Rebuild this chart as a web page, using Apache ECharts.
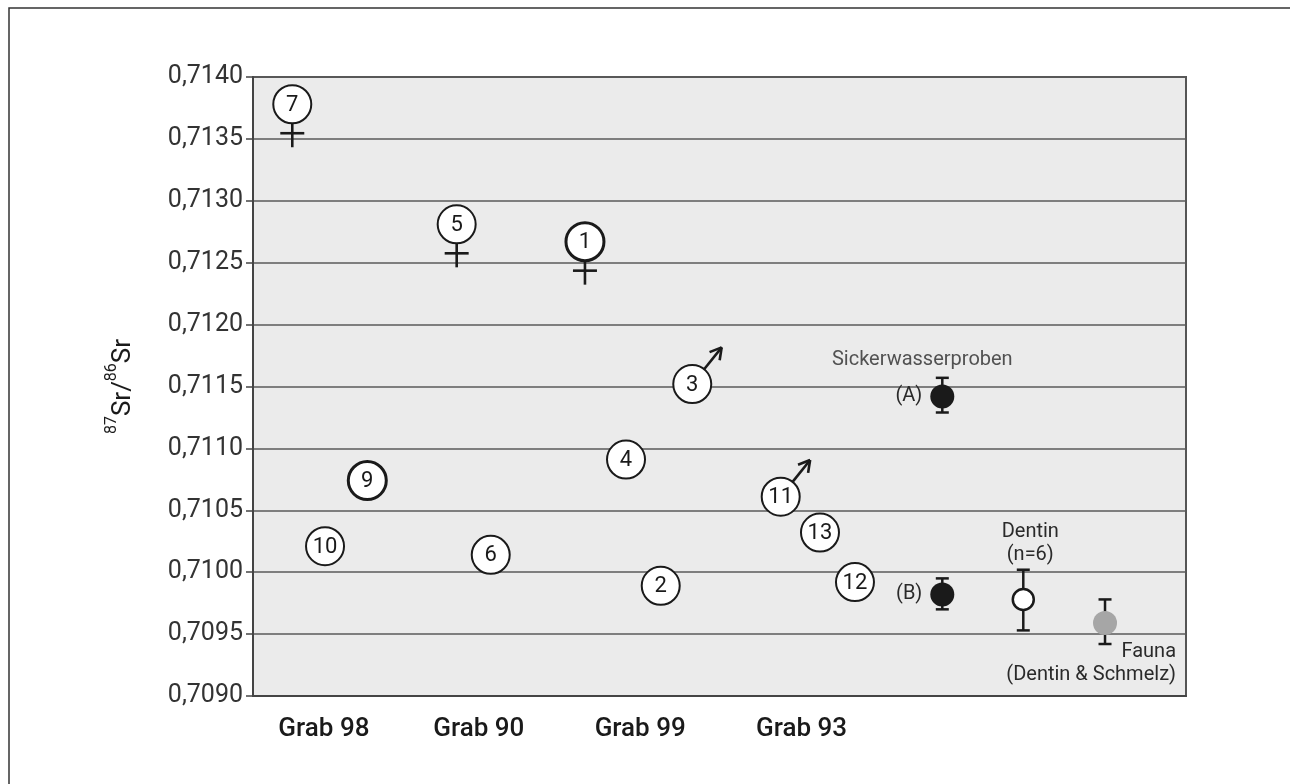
<!DOCTYPE html>
<html>
<head>
<meta charset="utf-8">
<script src="https://cdn.jsdelivr.net/npm/echarts@6/dist/echarts.min.js"></script>
<style>
html,body{margin:0;padding:0;background:#fff;}
#chart{width:1290px;height:784px;}
</style>
</head>
<body>
<div id="chart"></div>
<script>
// ---- data ----
const sampleIds   = ['7', '5', '1', '3', '4', '9', '10', '6', '2', '11', '13', '12'];
const sampleX     = [4.21, 21.83, 35.58, 47.08, 39.98, 12.25, 7.72, 25.48, 43.70, 56.56, 60.77, 64.52];
const sampleY     = [0.71378, 0.71281, 0.71267, 0.71152, 0.71091, 0.71074, 0.71021, 0.71014, 0.70989, 0.71061, 0.71032, 0.70992];
const sampleSex   = ['f', 'f', 'f', 'm', '', '', '', '', '', 'm', '', ''];

const refNames    = ['(A)', '(B)', 'Dentin\n(n=6)', 'Fauna\n(Dentin & Schmelz)'];
const refX        = [73.88, 73.88, 82.56, 91.32];
const refY        = [0.71142, 0.70982, 0.70978, 0.70959];
const refLow      = [0.71129, 0.70970, 0.70953, 0.70942];
const refHigh     = [0.71157, 0.70995, 0.71002, 0.70978];
const groupTitle  = 'Sickerwasserproben';

const grabLabels  = ['Grab 98', 'Grab 90', 'Grab 99', 'Grab 93'];
const grabX       = [7.6, 24.2, 41.5, 58.8];

const yMin = 0.7090, yMax = 0.7140, yStep = 0.0005;

// ---- chart ----
const FONT = 'Roboto, "Liberation Sans", sans-serif';
const INK = '#1a1a1a';
const thick = ['1', '9'];
const chart = echarts.init(document.getElementById('chart'), null, {renderer: 'canvas'});

function renderSample(params, api) {
  const i = params.dataIndex;
  const c = api.coord([api.value(0), api.value(1)]);
  const cx = c[0], cy = c[1], r = 19;
  const kids = [];
  const sex = sampleSex[i];
  const ls = {stroke: INK, lineWidth: 2.6};
  if (sex === 'f') {
    kids.push({type: 'line', shape: {x1: cx, y1: cy + r, x2: cx, y2: cy + 43}, style: ls});
    kids.push({type: 'line', shape: {x1: cx - 12, y1: cy + 29, x2: cx + 12, y2: cy + 29}, style: ls});
  } else if (sex === 'm') {
    const ux = 0.626, uy = -0.78;
    const tx = cx + ux * 47, ty = cy + uy * 47;
    kids.push({type: 'line', shape: {x1: cx + ux * r, y1: cy + uy * r, x2: tx, y2: ty}, style: ls});
    const back = Math.atan2(-uy, -ux);
    [-0.52, 0.52].forEach(function (d) {
      const a = back + d;
      kids.push({type: 'line', shape: {x1: tx, y1: ty, x2: tx + Math.cos(a) * 13, y2: ty + Math.sin(a) * 13}, style: ls});
    });
  }
  kids.push({type: 'circle', shape: {cx: cx, cy: cy, r: r}, style: {fill: '#fff', stroke: INK, lineWidth: thick.indexOf(sampleIds[i]) >= 0 ? 3 : 2}});
  kids.push({type: 'text', style: {text: sampleIds[i], x: cx, y: cy + 1, align: 'center', verticalAlign: 'middle', fontSize: 22, fontFamily: FONT, fill: INK}});
  return {type: 'group', children: kids};
}

function renderErr(params, api) {
  const x = api.value(0);
  const top = api.coord([x, api.value(2)]);
  const bot = api.coord([x, api.value(1)]);
  const ls = {stroke: INK, lineWidth: 2.5};
  return {type: 'group', children: [
    {type: 'line', shape: {x1: top[0], y1: top[1], x2: bot[0], y2: bot[1]}, style: ls},
    {type: 'line', shape: {x1: top[0] - 6.5, y1: top[1], x2: top[0] + 6.5, y2: top[1]}, style: ls},
    {type: 'line', shape: {x1: bot[0] - 6.5, y1: bot[1], x2: bot[0] + 6.5, y2: bot[1]}, style: ls}
  ]};
}

const labelStyle = {fontFamily: FONT, fontSize: 20, color: '#2a2a2a', lineHeight: 23};

const option = {
  backgroundColor: '#fff',
  animation: false,
  graphic: [{type: 'rect', shape: {x: 9, y: 8, width: 1400, height: 900}, style: {fill: 'none', stroke: '#333', lineWidth: 1.5}, z: -10}],
  grid: {left: 253, top: 77, right: 104, bottom: 88, show: true, backgroundColor: '#ebebeb', borderColor: '#555', borderWidth: 2},
  xAxis: {
    type: 'value', min: 0, max: 100,
    axisLine: {show: true, lineStyle: {color: '#444', width: 2}},
    axisTick: {show: false},
    splitLine: {show: false},
    axisLabel: {
      customValues: grabX,
      formatter: function (v) { const k = grabX.indexOf(v); return k >= 0 ? grabLabels[k] : ''; },
      fontFamily: FONT, fontSize: 26, fontWeight: 500, color: INK, margin: 20
    }
  },
  yAxis: {
    type: 'value', min: yMin, max: yMax, interval: yStep,
    name: '{sup|87}{main|Sr/}{sup|86}{main|Sr}',
    nameLocation: 'middle', nameRotate: 90, nameGap: 117,
    nameTextStyle: {
      rich: {
        main: {fontFamily: FONT, fontSize: 26, color: INK, verticalAlign: 'bottom', lineHeight: 32},
        sup: {fontFamily: FONT, fontSize: 16, color: INK, verticalAlign: 'top', lineHeight: 32}
      }
    },
    axisLine: {show: true, lineStyle: {color: '#444', width: 2}},
    axisTick: {show: true, length: 7, lineStyle: {color: '#444', width: 1.5}},
    splitLine: {show: true, lineStyle: {color: '#5a5a5a', width: 1.5}},
    axisLabel: {
      formatter: function (v) { return v.toFixed(4).replace('.', ','); },
      fontFamily: FONT, fontSize: 25, color: '#333', margin: 10
    }
  },
  series: [
    {
      type: 'custom', name: 'err', renderItem: renderErr, z: 2,
      data: refX.map(function (x, i) { return [x, refLow[i], refHigh[i]]; })
    },
    {
      type: 'scatter', name: 'sicker', symbol: 'circle', symbolSize: 24, z: 3,
      itemStyle: {color: INK, opacity: 1},
      label: Object.assign({show: true, position: 'left', distance: 8, formatter: function (p) { return refNames[p.dataIndex]; }}, labelStyle),
      data: [[refX[0], refY[0]], [refX[1], refY[1]]]
    },
    {
      type: 'scatter', name: 'sickerTitle', symbolSize: 0, z: 3,
      label: Object.assign({show: true, position: 'inside', offset: [-20, -36], formatter: groupTitle}, labelStyle),
      data: [[refX[0], refY[0]]]
    },
    {
      type: 'scatter', name: 'dentin', symbol: 'circle', symbolSize: 21, z: 3,
      itemStyle: {color: '#fff', borderColor: INK, borderWidth: 2.5, opacity: 1},
      label: Object.assign({show: true, position: 'inside', offset: [7, -56], formatter: refNames[2]}, labelStyle),
      data: [[refX[2], refY[2]]]
    },
    {
      type: 'scatter', name: 'fauna', symbol: 'circle', symbolSize: 24, z: 3,
      itemStyle: {color: '#a6a6a6', opacity: 1},
      label: Object.assign({show: true, position: 'inside', offset: [71, 41], align: 'right', formatter: refNames[3]}, labelStyle, {width: 150}),
      data: [[refX[3], refY[3]]]
    },
    {
      type: 'custom', name: 'samples', renderItem: renderSample, z: 4,
      data: sampleX.map(function (x, i) { return [x, sampleY[i]]; })
    }
  ]
};
chart.setOption(option);
</script>
</body>
</html>
